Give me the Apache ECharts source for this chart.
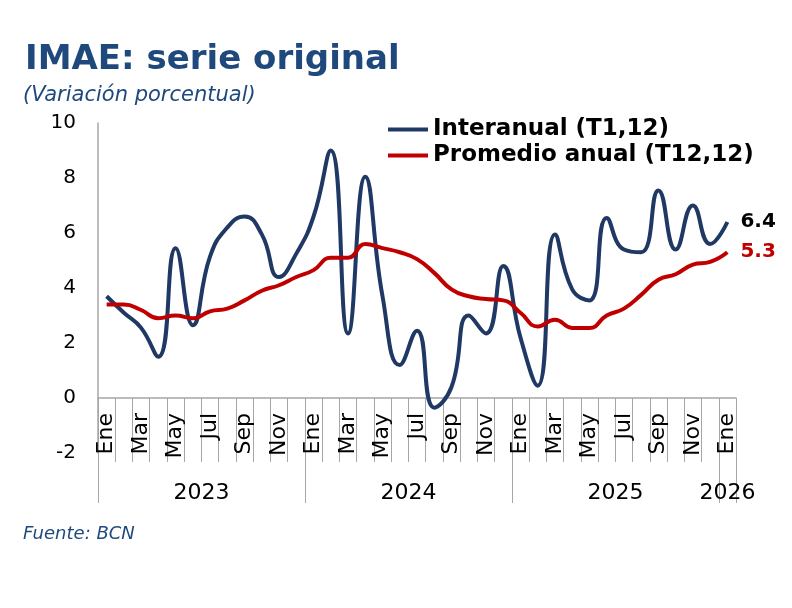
<!DOCTYPE html>
<html lang="es">

<head>
    <meta charset="UTF-8">
    <title>IMAE: serie original</title>
    <script src="https://cdn.jsdelivr.net/npm/echarts@6/dist/echarts.min.js"></script>
    <style>
        html, body { margin: 0; padding: 0; background: #fff; }
    </style>
</head>

<body>
    <div id="main" style="width: 792px;height:608px;"></div>
    <script type="text/javascript">
        // meses (ene 2023 - ene 2026)
        var meses = ['Ene', 'Feb', 'Mar', 'Abr', 'May', 'Jun', 'Jul', 'Ago', 'Sep', 'Oct', 'Nov', 'Dic',
            'Ene', 'Feb', 'Mar', 'Abr', 'May', 'Jun', 'Jul', 'Ago', 'Sep', 'Oct', 'Nov', 'Dic',
            'Ene', 'Feb', 'Mar', 'Abr', 'May', 'Jun', 'Jul', 'Ago', 'Sep', 'Oct', 'Nov', 'Dic',
            'Ene'];
        var anios = ['2023', '2024', '2025', '2026'];
        var yTicks = [-2, 0, 2, 4, 6, 8, 10];

        // Interanual (T1,12)
        var interanual = [3.7, 3.1, 2.55, 1.5, 5.45, 2.65, 5.15, 6.2, 6.6, 5.95, 4.4, 5.25,
            6.6, 9.0, 2.35, 8.05, 3.7, 1.2, 2.45, -0.35, 0.4, 3.0, 2.35, 4.8,
            2.2, 0.45, 5.95, 3.95, 3.55, 6.55, 5.4, 5.3, 7.55, 5.4, 7.0, 5.6,
            6.4];
        // Promedio anual (T12,12)
        var promedio = [3.4, 3.4, 3.2, 2.9, 3.0, 2.9, 3.15, 3.25, 3.55, 3.9, 4.1, 4.4,
            4.65, 5.1, 5.1, 5.6, 5.45, 5.3, 5.05, 4.55, 3.95, 3.7, 3.6, 3.55,
            3.1, 2.6, 2.85, 2.55, 2.55, 3.0, 3.25, 3.75, 4.3, 4.5, 4.85, 4.95,
            5.3];

        var azul = '#1f3864';
        var rojo = '#c00000';
        var gris = '#a6a6a6';
        var fuente = 'DejaVu Sans';

        // año de cada mes, para los ejes de años
        var anioDeMes = meses.map(function (m, i) { return anios[Math.floor(i / 12)]; });
        var ultimo = meses.length - 1;

        // rejilla y desplazamiento de los ejes x hasta la línea del cero
        var grid = { left: 98, right: 56, top: 123, bottom: 155 };
        var altoGrid = 608 - grid.top - grid.bottom;
        var yMin = yTicks[0], yMax = yTicks[yTicks.length - 1];
        var offsetCero = -altoGrid * (0 - yMin) / (yMax - yMin);

        var myChart = echarts.init(document.getElementById('main'));

        function ejeX(extra) {
            var base = {
                type: 'category',
                position: 'bottom',
                offset: offsetCero,
                boundaryGap: true,
                axisLine: { show: false, onZero: false },
                axisTick: { show: false },
                axisLabel: { show: false }
            };
            return echarts.util.merge(extra, base, false);
        }

        myChart.setOption({
            animation: false,
            title: [{
                text: 'IMAE: serie original',
                left: 20, top: 38,
                textStyle: { fontFamily: fuente, fontSize: 34, fontWeight: 'bold', color: '#1f497d' }
            }, {
                text: '(Variación porcentual)',
                left: 18, top: 80,
                textStyle: { fontFamily: fuente, fontSize: 21, fontStyle: 'italic', fontWeight: 'normal', color: '#1f497d' }
            }, {
                text: 'Fuente: BCN',
                left: 18, top: 520,
                textStyle: { fontFamily: fuente, fontSize: 18, fontStyle: 'italic', fontWeight: 'normal', color: '#1f497d' }
            }],
            legend: {
                orient: 'vertical',
                left: 383, top: 113,
                icon: 'rect',
                itemWidth: 40, itemHeight: 4, itemGap: 3,
                textStyle: { fontFamily: fuente, fontSize: 23, fontWeight: 'bold', color: '#000' },
                data: ['Interanual (T1,12)', 'Promedio anual (T12,12)']
            },
            grid: grid,
            xAxis: [
                // meses: línea en cero y etiquetas
                ejeX({
                    data: meses,
                    axisLine: { show: true, lineStyle: { color: gris, width: 1.5 } },
                    axisLabel: {
                        show: true,
                        interval: function (i) { return i % 2 === 0; },
                        rotate: 90, margin: 15,
                        fontFamily: fuente, fontSize: 22, color: '#000'
                    }
                }),
                // marcas entre meses
                ejeX({
                    data: meses,
                    axisTick: { show: true, interval: 0, length: 64, lineStyle: { color: gris } }
                }),
                // años: etiquetas
                ejeX({
                    data: anioDeMes,
                    axisLabel: {
                        show: true,
                        interval: function (i) { return i % 12 === 6 || i === ultimo; },
                        margin: 84,
                        formatter: function (v, i) {
                            return i === ultimo ? '{a|' + v + '}' : '{b|' + v + '}';
                        },
                        rich: {
                            a: { fontFamily: fuente, fontSize: 22, color: '#000' },
                            b: { fontFamily: fuente, fontSize: 22, color: '#000', padding: [0, 17, 0, 0] }
                        }
                    }
                }),
                // separadores de años
                ejeX({
                    data: anioDeMes,
                    axisTick: {
                        show: true, length: 105, lineStyle: { color: gris },
                        interval: function (i) { return i % 12 === 0; }
                    }
                })
            ],
            yAxis: {
                type: 'value',
                min: yMin, max: yMax, interval: 2,
                axisLine: { show: true, lineStyle: { color: gris, width: 1.5 } },
                axisTick: { show: false },
                splitLine: { show: false },
                axisLabel: { margin: 22, fontFamily: fuente, fontSize: 20, color: '#000' }
            },
            series: [{
                name: 'Interanual (T1,12)',
                type: 'line',
                data: interanual,
                smooth: 0.5,
                symbol: 'none',
                color: azul,
                lineStyle: { color: azul, width: 4 },
                endLabel: {
                    show: true, distance: 13,
                    formatter: function (p) { return p.value.toFixed(1); },
                    fontFamily: fuente, fontSize: 20, fontWeight: 'bold', color: '#000'
                }
            }, {
                name: 'Promedio anual (T12,12)',
                type: 'line',
                data: promedio,
                smooth: 0.5,
                symbol: 'none',
                color: rojo,
                lineStyle: { color: rojo, width: 4 },
                endLabel: {
                    show: true, distance: 13,
                    formatter: function (p) { return p.value.toFixed(1); },
                    fontFamily: fuente, fontSize: 20, fontWeight: 'bold', color: rojo
                }
            }]
        });
    </script>
</body>

</html>
